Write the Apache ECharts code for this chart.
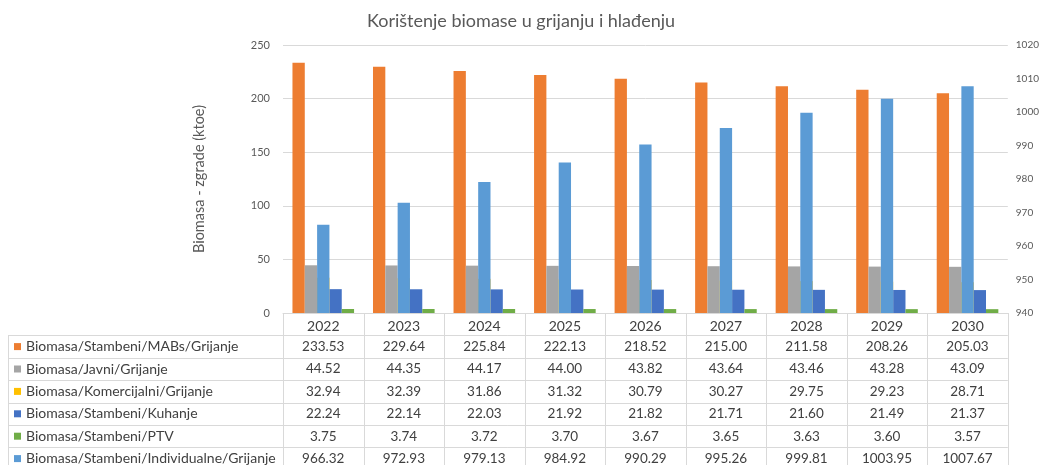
<!DOCTYPE html>
<html>
<head>
<meta charset="utf-8">
<script src="https://cdn.jsdelivr.net/npm/echarts@6/dist/echarts.min.js"></script>
<style>
html,body{margin:0;padding:0;background:#fff;}
#chart{width:1042px;height:465px;}
</style>
</head>
<body>
<div id="chart"></div>
<script>
const years = ['2022','2023','2024','2025','2026','2027','2028','2029','2030'];
const mabs = [233.53,229.64,225.84,222.13,218.52,215.00,211.58,208.26,205.03];
const javni = [44.52,44.35,44.17,44.00,43.82,43.64,43.46,43.28,43.09];
const komercijalni = [32.94,32.39,31.86,31.32,30.79,30.27,29.75,29.23,28.71];
const kuhanje = [22.24,22.14,22.03,21.92,21.82,21.71,21.60,21.49,21.37];
const ptv = [3.75,3.74,3.72,3.70,3.67,3.65,3.63,3.60,3.57];
const individualne = [966.32,972.93,979.13,984.92,990.29,995.26,999.81,1003.95,1007.67];
const leftTicks = {min:0,max:250,interval:50};
const rightTicks = {min:940,max:1020,interval:10};

const seriesDefs = [
  {name:'Biomasa/Stambeni/MABs/Grijanje', data:mabs, color:'#ED7D31', x:0, y:0},
  {name:'Biomasa/Javni/Grijanje', data:javni, color:'#A5A5A5', x:0, y:0},
  {name:'Biomasa/Komercijalni/Grijanje', data:komercijalni, color:'#FFC000', x:0, y:0},
  {name:'Biomasa/Stambeni/Kuhanje', data:kuhanje, color:'#4472C4', x:0, y:0},
  {name:'Biomasa/Stambeni/PTV', data:ptv, color:'#70AD47', x:0, y:0},
  {name:'Biomasa/Stambeni/Individualne/Grijanje', data:individualne, color:'#5B9BD5', x:1, y:1}
];

const FONT = 'Lato';
const chart = echarts.init(document.getElementById('chart'), null, {renderer:'canvas'});
const gridLine = '#d9d9d9';
const option = {
  animation:false,
  backgroundColor:'#fff',
  title:{text:'Korištenje biomase u grijanju i hlađenju', left:'center', top:7,
    textStyle:{fontFamily:FONT, fontSize:18, fontWeight:'normal', color:'#595959'}},
  grid:{left:283, right:30, top:45, bottom:152},
  xAxis:[
    {type:'category', data:years, position:'bottom',
     axisLine:{show:true, lineStyle:{color:gridLine}},
     axisTick:{show:false},
     axisLabel:{fontFamily:FONT, fontSize:14, color:'#404040', margin:6, interval:0}},
    {type:'category', data:years, show:false}
  ],
  yAxis:[
    {type:'value', min:leftTicks.min, max:leftTicks.max, interval:leftTicks.interval,
     name:'Biomasa - zgrade (ktoe)', nameLocation:'middle', nameGap:76,
     nameTextStyle:{fontFamily:FONT, fontSize:14.5, color:'#595959'},
     axisLine:{show:false}, axisTick:{show:false},
     axisLabel:{fontFamily:FONT, fontSize:11, color:'#595959', margin:13},
     splitLine:{lineStyle:{color:gridLine}}},
    {type:'value', min:rightTicks.min, max:rightTicks.max, interval:rightTicks.interval,
     position:'right',
     axisLine:{show:false}, axisTick:{show:false},
     axisLabel:{fontFamily:FONT, fontSize:10, color:'#595959', margin:8, formatter:v => String(v)},
     splitLine:{show:false}}
  ],
  series: seriesDefs.map(s => ({
    name:s.name, type:'bar', data:s.data, xAxisIndex:s.x, yAxisIndex:s.y,
    barWidth:'15.3%', barGap:'0%', itemStyle:{color:s.color}
  }))
};
chart.setOption(option);

// Data table below the chart
function buildTable(){
  const centers = years.map(y => chart.convertToPixel({xAxisIndex:0}, y));
  const colW = centers.length > 1 ? (centers[1]-centers[0]) : 80;
  const x0 = centers[0] - colW/2;
  const x1 = centers[centers.length-1] + colW/2;
  const yTop = chart.convertToPixel({yAxisIndex:0}, 0);
  const rowH = 22.4;
  const legendLeft = 8;
  const els = [];
  const line = (xa,ya,xb,yb) => els.push({type:'line', silent:true,
    shape:{x1:xa,y1:ya,x2:xb,y2:yb}, style:{stroke:gridLine, lineWidth:1}});
  const nRows = seriesDefs.length;
  const headerBottom = yTop + rowH;
  for (let i=0;i<=nRows;i++){
    const y = Math.round(headerBottom + rowH*i)+0.5;
    line(legendLeft, y, x1, y);
  }
  const bottom = headerBottom + rowH*(nRows+1);
  line(legendLeft+0.5, headerBottom, legendLeft+0.5, bottom);
  for (let c=0;c<=years.length;c++){
    const x = Math.round(x0 + colW*c)+0.5;
    line(x, yTop, x, bottom);
  }
  seriesDefs.forEach((s,i)=>{
    const cy = headerBottom + rowH*i + rowH/2;
    els.push({type:'rect', silent:true, shape:{x:14, y:cy-3.5, width:7, height:7}, style:{fill:s.color}});
    els.push({type:'text', silent:true, style:{text:s.name, x:26, y:cy, textVerticalAlign:'middle',
      verticalAlign:'middle', fontFamily:FONT, fontSize:14, fill:'#404040'}});
    s.data.forEach((v,j)=>{
      els.push({type:'text', silent:true, style:{text:v.toFixed(2), x:centers[j], y:cy,
        align:'center', textAlign:'center', verticalAlign:'middle', textVerticalAlign:'middle',
        fontFamily:FONT, fontSize:13.5, fill:'#404040'}});
    });
  });
  chart.setOption({graphic:{elements:els}});
}
buildTable();
</script>
</body>
</html>
